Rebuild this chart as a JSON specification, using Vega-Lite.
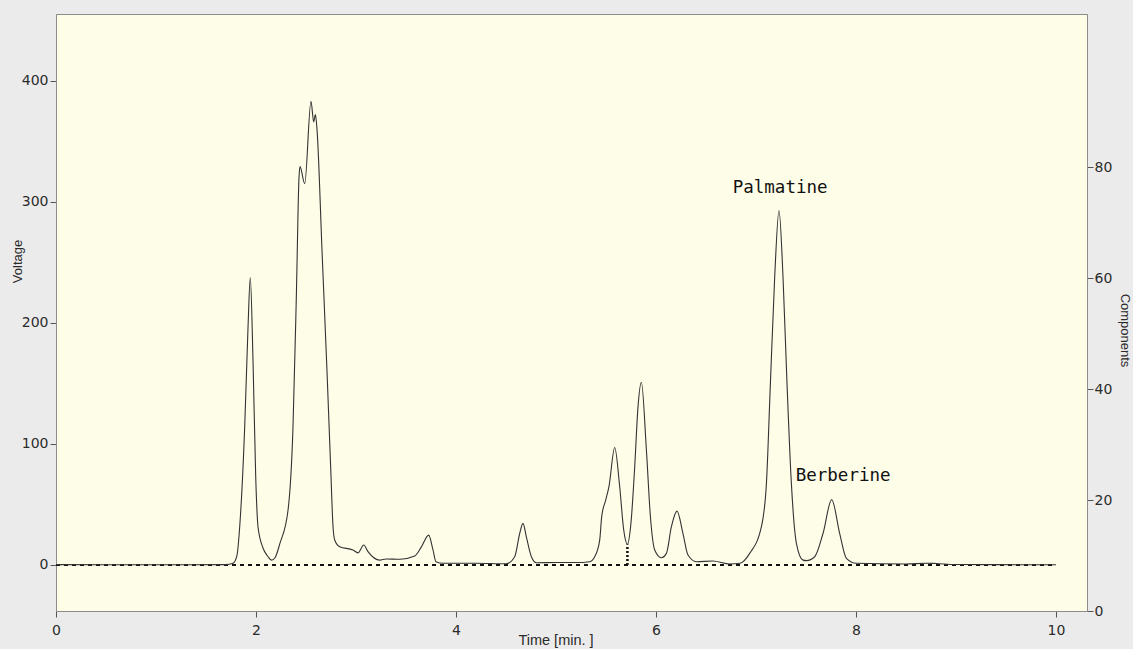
{
  "$schema": "https://vega.github.io/schema/vega-lite/v6.json",
  "width": 1031,
  "height": 597,
  "autosize": {"type": "none"},
  "padding": {"left": 56, "top": 14, "right": 46, "bottom": 38},
  "background": "#ebebeb",
  "config": {
    "view": {"fill": "#fdfde8", "stroke": "#8c8c8c", "strokeWidth": 1},
    "axis": {
      "grid": false,
      "labelFlush": false,
      "labelOverlap": false,
      "domainColor": "#8c8c8c",
      "tickColor": "#555555",
      "tickSize": 6,
      "labelFont": "DejaVu Sans",
      "labelFontSize": 14,
      "labelColor": "#2b2b2b",
      "titleFont": "Liberation Sans",
      "titleFontWeight": "normal",
      "titleColor": "#2b2b2b"
    }
  },
  "datasets": {
    "trace": [
      {"t": 0, "v": 0.3}, {"t": 1.0, "v": 0.2}, {"t": 1.70, "v": 0.3}, {"t": 1.77, "v": 1.4},
      {"t": 1.81, "v": 8}, {"t": 1.837, "v": 31.6}, {"t": 1.887, "v": 114}, {"t": 1.92, "v": 196},
      {"t": 1.943, "v": 237.5}, {"t": 1.97, "v": 169}, {"t": 1.997, "v": 73}, {"t": 2.02, "v": 31.6},
      {"t": 2.07, "v": 14}, {"t": 2.12, "v": 7}, {"t": 2.155, "v": 4}, {"t": 2.19, "v": 6},
      {"t": 2.24, "v": 18}, {"t": 2.32, "v": 45}, {"t": 2.37, "v": 114}, {"t": 2.404, "v": 224},
      {"t": 2.43, "v": 320}, {"t": 2.44, "v": 329}, {"t": 2.487, "v": 315}, {"t": 2.55, "v": 383},
      {"t": 2.577, "v": 366}, {"t": 2.594, "v": 372}, {"t": 2.61, "v": 360}, {"t": 2.66, "v": 260},
      {"t": 2.71, "v": 160}, {"t": 2.747, "v": 80}, {"t": 2.77, "v": 32}, {"t": 2.787, "v": 20.6},
      {"t": 2.837, "v": 15}, {"t": 2.97, "v": 12.4}, {"t": 3.02, "v": 10}, {"t": 3.077, "v": 16.5},
      {"t": 3.12, "v": 11}, {"t": 3.237, "v": 4}, {"t": 3.3, "v": 5}, {"t": 3.44, "v": 4.7},
      {"t": 3.587, "v": 7.4}, {"t": 3.654, "v": 15}, {"t": 3.727, "v": 24.7}, {"t": 3.77, "v": 12.4},
      {"t": 3.80, "v": 2.7}, {"t": 3.87, "v": 1.4}, {"t": 4.2, "v": 1.5}, {"t": 4.5, "v": 1},
      {"t": 4.587, "v": 6.8}, {"t": 4.637, "v": 26}, {"t": 4.67, "v": 34.4}, {"t": 4.704, "v": 23},
      {"t": 4.754, "v": 6.8}, {"t": 4.804, "v": 1.9}, {"t": 5.0, "v": 2}, {"t": 5.2, "v": 2},
      {"t": 5.337, "v": 2.7}, {"t": 5.387, "v": 6.8}, {"t": 5.437, "v": 20.6}, {"t": 5.457, "v": 40},
      {"t": 5.497, "v": 53.6}, {"t": 5.53, "v": 65}, {"t": 5.587, "v": 97}, {"t": 5.637, "v": 64.6},
      {"t": 5.677, "v": 29}, {"t": 5.714, "v": 17}, {"t": 5.75, "v": 35}, {"t": 5.787, "v": 81},
      {"t": 5.82, "v": 130.6}, {"t": 5.854, "v": 151}, {"t": 5.904, "v": 95}, {"t": 5.944, "v": 40},
      {"t": 5.987, "v": 12.4}, {"t": 6.054, "v": 6}, {"t": 6.104, "v": 9.6}, {"t": 6.154, "v": 31.6},
      {"t": 6.21, "v": 44.5}, {"t": 6.27, "v": 26}, {"t": 6.32, "v": 8.2}, {"t": 6.404, "v": 2.7},
      {"t": 6.57, "v": 3.3}, {"t": 6.737, "v": 0.8}, {"t": 6.84, "v": 1.4}, {"t": 6.937, "v": 9.6},
      {"t": 7.054, "v": 31.6}, {"t": 7.104, "v": 67}, {"t": 7.144, "v": 150}, {"t": 7.187, "v": 238},
      {"t": 7.23, "v": 292.8}, {"t": 7.27, "v": 238}, {"t": 7.31, "v": 150}, {"t": 7.354, "v": 67},
      {"t": 7.404, "v": 17.9}, {"t": 7.47, "v": 4}, {"t": 7.504, "v": 3.6}, {"t": 7.587, "v": 6.8},
      {"t": 7.67, "v": 26}, {"t": 7.757, "v": 54}, {"t": 7.837, "v": 26}, {"t": 7.904, "v": 5.5},
      {"t": 8.004, "v": 1.4}, {"t": 8.5, "v": 0.8}, {"t": 8.7, "v": 1.5}, {"t": 8.8, "v": 1.2},
      {"t": 9.0, "v": 0.4}, {"t": 10.0, "v": 0.2}
    ],
    "base": [{"t": 0, "t2": 10, "v": 0}],
    "split": [{"t": 5.714, "v": 0, "v2": 17}],
    "labels": [
      {"t": 6.767, "v": 307.2, "name": "Palmatine"},
      {"t": 7.397, "v": 69.4, "name": "Berberine"}
    ],
    "comp": [{"c": 0}]
  },
  "layer": [
    {
      "layer": [
        {
          "data": {"name": "base"},
          "mark": {"type": "rule", "color": "#111111", "strokeWidth": 2, "strokeDash": [4, 4]},
          "encoding": {
            "x": {"field": "t", "type": "quantitative"},
            "x2": {"field": "t2"},
            "y": {"field": "v", "type": "quantitative"}
          }
        },
        {
          "data": {"name": "split"},
          "mark": {"type": "rule", "color": "#111111", "strokeWidth": 2.5, "strokeDash": [2, 2]},
          "encoding": {
            "x": {"field": "t", "type": "quantitative"},
            "y": {"field": "v", "type": "quantitative"},
            "y2": {"field": "v2"}
          }
        },
        {
          "data": {"name": "trace"},
          "mark": {"type": "line", "color": "#333333", "strokeWidth": 1.1, "interpolate": "monotone"},
          "encoding": {
            "x": {
              "field": "t", "type": "quantitative",
              "scale": {"domain": [0, 10.31], "nice": false, "zero": false},
              "axis": {
                "values": [0, 2, 4, 6, 8, 10],
                "format": "d",
                "labelPadding": 6,
                "title": "Time [min. ]",
                "titleFontSize": 14.5,
                "titleX": 499.5,
                "titleY": 29,
                "titleBaseline": "middle",
                "titleAlign": "center"
              }
            },
            "y": {
              "field": "v", "type": "quantitative",
              "scale": {"domain": [-38, 455.1], "nice": false, "zero": false},
              "axis": {
                "orient": "left",
                "values": [0, 100, 200, 300, 400],
                "format": "d",
                "labelPadding": 2,
                "title": "Voltage",
                "titleFontSize": 13,
                "titleAngle": -90,
                "titleX": -38.5,
                "titleY": 247,
                "titleBaseline": "middle",
                "titleAlign": "center"
              }
            }
          }
        },
        {
          "data": {"name": "labels"},
          "mark": {"type": "text", "font": "DejaVu Sans Mono", "fontSize": 17.5, "align": "left", "baseline": "alphabetic", "color": "#111111"},
          "encoding": {
            "x": {"field": "t", "type": "quantitative"},
            "y": {"field": "v", "type": "quantitative"},
            "text": {"field": "name"}
          }
        }
      ]
    },
    {
      "data": {"name": "comp"},
      "mark": {"type": "point", "opacity": 0},
      "encoding": {
        "y": {
          "field": "c", "type": "quantitative",
          "scale": {"domain": [0, 107.6], "nice": false, "zero": false},
          "axis": {
            "orient": "right",
            "values": [0, 20, 40, 60, 80],
            "format": "d",
            "labelPadding": 1,
            "title": "Components",
            "titleFontSize": 13,
            "titleAngle": 90,
            "titleX": 37,
            "titleY": 316,
            "titleBaseline": "middle",
            "titleAlign": "center"
          }
        }
      }
    }
  ],
  "resolve": {"scale": {"y": "independent"}}
}
